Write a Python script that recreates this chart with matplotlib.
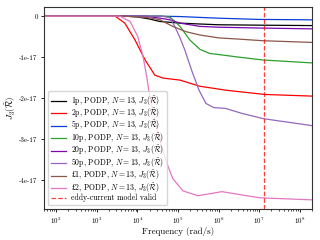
import numpy as np
import matplotlib
matplotlib.use("Agg")
import matplotlib.pyplot as plt
from matplotlib.ticker import FixedLocator, FuncFormatter, LogLocator
from matplotlib import _mathtext_data as md

plt.rcParams['font.family'] = ['cmr10', 'DejaVu Serif']
plt.rcParams['mathtext.fontset'] = 'cm'
plt.rcParams['axes.unicode_minus'] = False

_pname = next((n for n in ('sterling', 'pounds', 'mathsterling') if n in md.tex2uni), None)
POUND = (r'$\mathit{\%s}$' % _pname) if _pname else '£'

# tick values
x_ticks = [1e2, 1e3, 1e4, 1e5, 1e6, 1e7, 1e8]
y_ticks = [0, -1e-17, -2e-17, -3e-17, -4e-17]

# log10 of frequency (rad/s) and J3 values (units of 1e-17)
x_1p = [1.7, 3.0, 3.7, 4.0, 4.3, 4.55, 5.05, 5.5, 6.0, 7.0, 8.3]
y_1p = [0, 0, 0, -0.02, -0.07, -0.13, -0.17, -0.19, -0.21, -0.22, -0.23]

x_2p = [1.7, 3.0, 3.45, 3.69, 3.94, 4.19, 4.43, 4.63, 5.05, 5.54, 6.21, 7.14, 8.3]
y_2p = [0, 0, 0, -0.17, -0.58, -1.07, -1.44, -1.51, -1.56, -1.71, -1.81, -1.91, -1.95]

x_5p = [1.7, 4.0, 4.5, 5.05, 6.0, 7.0, 8.3]
y_5p = [0, 0, 0, -0.01, -0.05, -0.08, -0.09]

x_10p = [1.7, 4.0, 4.6, 4.8, 5.05, 5.29, 5.54, 5.78, 6.03, 6.5, 7.1, 8.3]
y_10p = [0, 0, 0, -0.02, -0.25, -0.58, -0.81, -0.91, -0.94, -1.0, -1.07, -1.14]

x_20p = [1.7, 4.0, 4.2, 4.56, 4.8, 5.05, 5.54, 6.0, 7.0, 8.3]
y_20p = [0, 0, 0, -0.05, -0.09, -0.17, -0.25, -0.27, -0.29, -0.31]

x_50p = [1.7, 4.0, 4.6, 4.8, 4.92, 5.05, 5.17, 5.25, 5.35, 5.52, 5.69, 5.88,
         6.17, 6.57, 7.1, 8.3]
y_50p = [0, 0, 0, -0.04, -0.25, -0.53, -0.83, -1.07, -1.36, -1.81, -2.13, -2.23,
         -2.25, -2.37, -2.5, -2.67]

x_gbp1 = [1.7, 3.0, 3.7, 4.3, 4.56, 4.87, 5.2, 5.54, 6.0, 6.5, 7.1, 8.3]
y_gbp1 = [0, 0, 0, -0.04, -0.09, -0.25, -0.38, -0.46, -0.53, -0.56, -0.6, -0.64]

x_gbp2 = [1.7, 3.0, 3.57, 3.82, 4.01, 4.14, 4.23, 4.28, 4.43, 4.56, 4.73, 4.87,
          5.12, 5.49, 6.08, 7.01, 8.3]
y_gbp2 = [0, 0, 0, -0.13, -0.5, -0.99, -1.48, -1.81, -2.54, -3.05, -3.6, -3.96,
          -4.26, -4.38, -4.28, -4.43, -4.48]

labels = ["1p", "2p", "5p", "10p", "20p", "50p", POUND + "1", POUND + "2"]
colors = ["black", "red", "#0a3fd6", "#2ca02c", "#7b06b0", "#9467bd", "#8c564b", "#e377c2"]
xs = [x_1p, x_2p, x_5p, x_10p, x_20p, x_50p, x_gbp1, x_gbp2]
ys = [y_1p, y_2p, y_5p, y_10p, y_20p, y_50p, y_gbp1, y_gbp2]

eddy_limit = 1.3e7
scale = 1e-17

fig = plt.figure(figsize=(3.2, 2.4), dpi=100)
ax = fig.add_axes([0.1375, 0.129, 0.8375, 0.842])

for lab, c, xv, yv in zip(labels, colors, xs, ys):
    ax.semilogx(10 ** np.array(xv), np.array(yv) * scale, color=c, lw=0.9,
                label=lab + r", PODP, $N=13$, $J_3(\tilde{\mathcal{R}})$")
ax.axvline(eddy_limit, color="red", ls="--", lw=0.9, alpha=0.75,
           label="eddy-current model valid")

ax.set_xlim(5e1, 2e8)
ax.yaxis.set_major_locator(FixedLocator(y_ticks))
ax.yaxis.set_major_formatter(FuncFormatter(lambda v, p: "0" if abs(v) < 1e-30 else "%g" % v))
ax.xaxis.set_major_locator(FixedLocator(x_ticks))
ax.xaxis.set_minor_locator(LogLocator(base=10, subs=np.arange(2, 10), numticks=100))
ax.tick_params(labelsize=5, length=2.5, width=0.6, pad=2)
ax.tick_params(which="minor", length=1.5, width=0.5)
for s in ax.spines.values():
    s.set_linewidth(0.8)
    s.set_color("#333333")

ax.set_xlabel("Frequency (rad/s)", fontsize=6.5, labelpad=1)
ax.set_ylabel(r"$J_3(\tilde{\mathcal{R}})$", fontsize=6.5, labelpad=1)

ax.legend(loc="lower left", fontsize=5.6, handlelength=2.0, labelspacing=-0.12,
          borderpad=0.35, handletextpad=0.65, framealpha=0.8)

fig.savefig("out.png", dpi=100)
